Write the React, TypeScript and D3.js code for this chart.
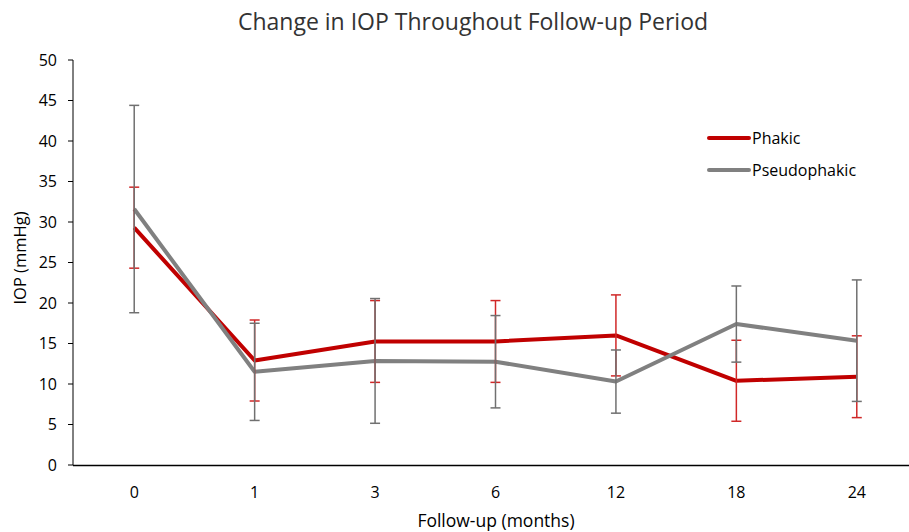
import React from "react";
import * as d3 from "d3";

const categories = ["0", "1", "3", "6", "12", "18", "24"];
const phakicMean = [29.3, 12.9, 15.25, 15.25, 16.0, 10.4, 10.9];
const phakicSD = [5.0, 5.0, 5.05, 5.05, 5.0, 5.0, 5.05];
const pseudoMean = [31.6, 11.5, 12.85, 12.75, 10.3, 17.4, 15.35];
const pseudoSD = [12.8, 6.0, 7.7, 5.7, 3.9, 4.7, 7.5];
const yTicks = [0, 5, 10, 15, 20, 25, 30, 35, 40, 45, 50];

const W = 909;
const H = 532;
const FONT = "'Open Sans', 'Noto Sans', sans-serif";

export default function App() {
  const x = d3.scalePoint<string>().domain(categories).range([74, 917]).padding(0.5);
  const y = d3.scaleLinear().domain([0, 50]).range([465, 60]);
  const line = d3
    .line<number>()
    .x((_, i) => x(categories[i]) as number)
    .y((d) => y(d));

  const series = [
    { name: "Phakic", mean: phakicMean, sd: phakicSD, color: "#C00000", err: "#D02828" },
    { name: "Pseudophakic", mean: pseudoMean, sd: pseudoSD, color: "#808080", err: "#707070" },
  ];

  return (
    <svg width={W} height={H} style={{ position: "absolute", left: 0, top: 0, background: "#fff" }}>
      <rect x={0} y={0} width={W} height={H} fill="#fff" />
      <text x={473} y={30} textAnchor="middle" fontFamily={FONT} fontSize={23} fill="#333">
        Change in IOP Throughout Follow-up Period
      </text>
      {/* y axis */}
      <line x1={73} x2={73} y1={y(50)} y2={y(0)} stroke="#000" strokeWidth={1} />
      {yTicks.map((t) => (
        <g key={t}>
          <line x1={68} x2={73} y1={y(t)} y2={y(t)} stroke="#000" strokeWidth={1} />
          <text x={57} y={y(t)} dy="0.35em" textAnchor="end" fontFamily={FONT} fontSize={16} fill="#000">
            {t}
          </text>
        </g>
      ))}
      {/* x axis */}
      <line x1={73} x2={W} y1={y(0) + 0.5} y2={y(0) + 0.5} stroke="#000" strokeWidth={1.3} />
      {categories.map((c) => (
        <text key={c} x={x(c)} y={492} dy="0.35em" textAnchor="middle" fontFamily={FONT} fontSize={16} fill="#000">
          {c}
        </text>
      ))}
      <text x={496} y={521} dy="0.35em" textAnchor="middle" fontFamily={FONT} fontSize={17.5} fill="#000">
        Follow-up (months)
      </text>
      <text
        transform={`translate(20,${258}) rotate(-90)`}
        textAnchor="middle"
        dy="0.35em"
        fontFamily={FONT}
        fontSize={16.5}
        fill="#000"
      >
        IOP (mmHg)
      </text>
      {/* lines */}
      {series.map((s) => (
        <path key={s.name} d={line(s.mean) as string} fill="none" stroke={s.color} strokeWidth={4} strokeLinejoin="round" />
      ))}
      {/* error bars */}
      {series.map((s) => (
        <g key={s.name + "err"}>
          {s.mean.map((m, i) => {
            const cx = x(categories[i]) as number;
            const y1 = y(m + s.sd[i]);
            const y2 = y(m - s.sd[i]);
            return (
              <g key={i} stroke={s.err} strokeWidth={1.5}>
                <line x1={cx} x2={cx} y1={y1} y2={y2} />
                <line x1={cx - 5} x2={cx + 5} y1={y1} y2={y1} />
                <line x1={cx - 5} x2={cx + 5} y1={y2} y2={y2} />
              </g>
            );
          })}
        </g>
      ))}
      {/* legend */}
      {series.map((s, i) => (
        <g key={s.name + "leg"}>
          <line x1={709} x2={749} y1={138 + i * 32} y2={138 + i * 32} stroke={s.color} strokeWidth={4} strokeLinecap="round" />
          <text x={752} y={138 + i * 32} dy="0.35em" fontFamily={FONT} fontSize={16} fill="#000">
            {s.name}
          </text>
        </g>
      ))}
    </svg>
  );
}
